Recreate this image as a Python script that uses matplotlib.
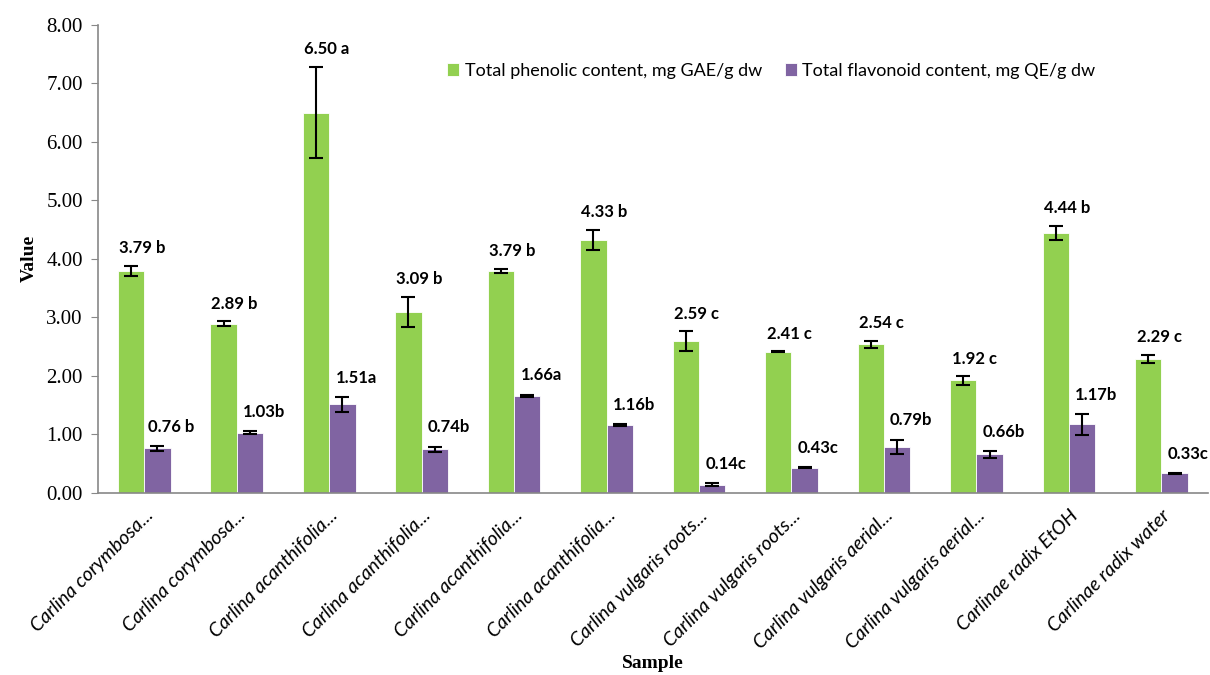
import matplotlib
matplotlib.use('Agg')
from matplotlib import pyplot as plt
import numpy as np

samples = ['Carlina corymbosa...', 'Carlina corymbosa...', 'Carlina acanthifolia...',
           'Carlina acanthifolia...', 'Carlina acanthifolia...', 'Carlina acanthifolia...',
           'Carlina vulgaris roots...', 'Carlina vulgaris roots...', 'Carlina vulgaris aerial...',
           'Carlina vulgaris aerial...', 'Carlinae radix EtOH', 'Carlinae radix water']

phenolic = [3.79, 2.89, 6.50, 3.09, 3.79, 4.33, 2.59, 2.41, 2.54, 1.92, 4.44, 2.29]
phenolic_err = [0.09, 0.04, 0.78, 0.26, 0.04, 0.17, 0.17, 0.01, 0.06, 0.07, 0.12, 0.07]
phenolic_lbl = ['3.79 b', '2.89 b', '6.50 a', '3.09 b', '3.79 b', '4.33 b',
                '2.59 c', '2.41 c', '2.54 c', '1.92 c', '4.44 b', '2.29 c']

flavonoid = [0.76, 1.03, 1.51, 0.74, 1.66, 1.16, 0.14, 0.43, 0.79, 0.66, 1.17, 0.33]
flavonoid_err = [0.04, 0.03, 0.13, 0.05, 0.02, 0.02, 0.03, 0.01, 0.12, 0.06, 0.18, 0.01]
flavonoid_lbl = ['0.76 b', '1.03b', '1.51a', '0.74b', '1.66a', '1.16b',
                 '0.14c', '0.43c', '0.79b', '0.66b', '1.17b', '0.33c']

green = '#92D050'
purple = '#8064A2'

fig = plt.figure(figsize=(12.1, 6.75), dpi=100)
ax = fig.add_axes([0.081, 0.270, 0.917, 0.693])

x = np.arange(len(samples))
w = 0.285
ebar = dict(ecolor='black', capsize=5, error_kw=dict(elinewidth=1.5, capthick=1.5))

ax.bar(x - w / 2, phenolic, w, yerr=phenolic_err, color=green, edgecolor='white', linewidth=0.6,
       label='Total phenolic content, mg GAE/g dw', **ebar)
ax.bar(x + w / 2, flavonoid, w, yerr=flavonoid_err, color=purple, edgecolor='white', linewidth=0.6,
       label='Total flavonoid content, mg QE/g dw', **ebar)

for i in range(len(samples)):
    ax.annotate(phenolic_lbl[i], (x[i] - w / 2, phenolic[i] + phenolic_err[i]),
                xytext=(8, 7), textcoords='offset points', ha='center', va='bottom',
                fontsize=12, fontweight='bold', family='Lato')
    ax.annotate(flavonoid_lbl[i], (x[i] + w / 2, flavonoid[i] + flavonoid_err[i]),
                xytext=(10, 8), textcoords='offset points', ha='center', va='bottom',
                fontsize=12, fontweight='bold', family='Lato')

ax.set_xlim(-0.5, len(samples) - 0.5)
ax.set_ylim(0, 8)
ax.set_yticks(np.arange(0, 8.01, 1))
ax.set_yticklabels(['%.2f' % v for v in np.arange(0, 8.01, 1)], family='Liberation Serif', fontsize=15)
ax.set_xticks(x)
ax.set_xticklabels(samples, rotation=45, ha='right', va='top', rotation_mode='anchor',
                   family='Lato', style='italic', fontsize=14)
ax.tick_params(axis='x', length=0, pad=10)
ax.tick_params(axis='y', length=5, color='#888888', pad=6)

for s in ['top', 'right']:
    ax.spines[s].set_visible(False)
ax.spines['left'].set_color('#888888')
ax.spines['bottom'].set_color('#888888')
ax.spines['left'].set_linewidth(1.2)
ax.spines['bottom'].set_linewidth(1.2)

ax.set_ylabel('Value', family='Liberation Serif', fontweight='bold', fontsize=14, labelpad=6)
ax.set_xlabel('Sample', family='Liberation Serif', fontweight='bold', fontsize=14, labelpad=2)

ax.legend(loc='center', bbox_to_anchor=(0.607, 0.902), ncol=2, frameon=False,
          prop=dict(family='Lato', size=13), handlelength=0.65, handleheight=0.65,
          handletextpad=0.3, columnspacing=1.3)

plt.savefig('out.png')
plt.close()
